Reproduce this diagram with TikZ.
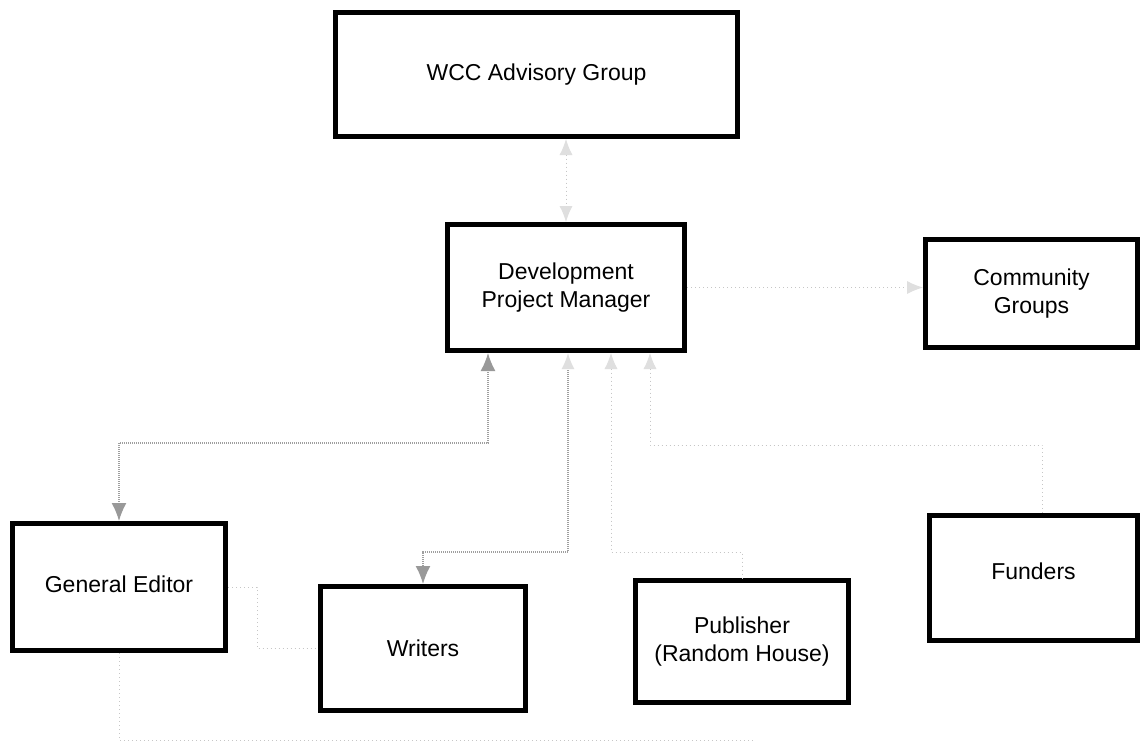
\documentclass[tikz,border=0pt]{standalone}
\usepackage{fontspec}
\setmainfont{Liberation Sans}
\usetikzlibrary{arrows.meta,calc}
\tikzset{
  box/.style={draw=black, line width=5pt, fill=white, inner sep=0pt, align=center,
    font=\fontsize{23}{28}\selectfont},
  mainconn/.style={draw=gray!75, line width=1.6pt, dash pattern=on 1.2pt off 0.8pt},
  faintconn/.style={draw=gray!45, line width=1pt, dash pattern=on 1pt off 3pt},
  bigtip/.tip={Latex[length=18pt,width=15pt,color=gray!80]},
  fainttip/.tip={Latex[length=16pt,width=13pt,color=gray!25]}
}
\begin{document}
\begin{tikzpicture}[x=1pt,y=-1pt]
\useasboundingbox[fill=white] (0,0) rectangle (1143,742);
\node[box, minimum width=402pt, minimum height=124pt] (wcc) at (536.5,74.5) {WCC Advisory Group};
\node[box, minimum width=237pt, minimum height=126pt] (dpm) at (566,287.5) {\raisebox{6pt}{\begin{tabular}{@{}c@{}}Development\\Project Manager\end{tabular}}};
\node[box, minimum width=212pt, minimum height=108pt] (cg) at (1031.5,293.5) {\raisebox{10pt}{\begin{tabular}{@{}c@{}}Community\\Groups\end{tabular}}};
\node[box, minimum width=213pt, minimum height=127pt] (ge) at (119,587) {\raisebox{6pt}{General Editor}};
\node[box, minimum width=205pt, minimum height=124pt] (wr) at (423,648.5) {Writers};
\node[box, minimum width=213pt, minimum height=122pt] (pub) at (742,641.5) {\raisebox{-4pt}{\begin{tabular}{@{}c@{}}Publisher\\(Random House)\end{tabular}}};
\node[box, minimum width=208pt, minimum height=125pt] (fun) at (1033.5,578) {\raisebox{14pt}{Funders}};
\coordinate (tail) at (755,740);

% WCC <-> DPM
\draw[faintconn, fainttip-fainttip] (dpm.north |- wcc.south) -- (dpm.north);
% DPM -> Community Groups
\draw[faintconn, -fainttip] (dpm.east) -- (cg.west |- dpm.east);
% General Editor <-> DPM
\draw[mainconn, bigtip-bigtip] ([xshift=-78pt]dpm.south) -- ++(0,90) -| (ge.north);
% DPM -> Writers
\draw[mainconn, fainttip-bigtip] ([xshift=2pt]dpm.south) -- ++(0,199) -| (wr.north);
% DPM -> Publisher
\draw[faintconn, fainttip-] ([xshift=45pt]dpm.south) -- ++(0,199) -| (pub.north);
% DPM -> Funders
\draw[faintconn, fainttip-] ([xshift=84pt]dpm.south) -- ++(0,92) -| ([xshift=9pt]fun.north);
% General Editor - Writers
\draw[faintconn] (ge.east) -- ++(29,0) |- (wr.west);
% General Editor bottom line
\draw[faintconn] (ge.south) |- (tail);
\end{tikzpicture}
\end{document}
